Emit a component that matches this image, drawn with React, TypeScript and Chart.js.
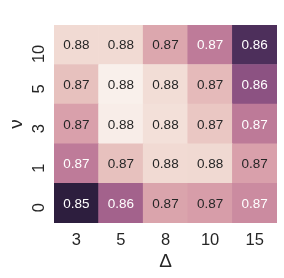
import React, { useEffect, useRef } from "react";
import { Chart, registerables } from "chart.js";

Chart.register(...registerables);

const xLabels = ["3", "5", "8", "10", "15"];
const yLabels = ["0", "1", "3", "5", "10"]; // bottom to top
const row0 = [0.8535, 0.8636, 0.8707, 0.8701, 0.8682];
const row1 = [0.8665, 0.8735, 0.8759, 0.8758, 0.8704];
const row3 = [0.8704, 0.8778, 0.8765, 0.8741, 0.8664];
const row5 = [0.8735, 0.8781, 0.8762, 0.8729, 0.8615];
const row10 = [0.8759, 0.8759, 0.871, 0.8665, 0.8562];
const rows = [row0, row1, row3, row5, row10];

const allVals = rows.flat();
const vmin = Math.min(...allVals);
const vmax = Math.max(...allVals);

const LIGHT = 0.95;
const DARK = 0.15;

function cubehelix(x: number): [number, number, number] {
  const start = 0, rot = 0.4, gamma = 1, hue = 0.8;
  const f = (p0: number, p1: number) => {
    const xg = Math.pow(x, gamma);
    const a = (hue * xg * (1 - xg)) / 2;
    const phi = 2 * Math.PI * (start / 3 + rot * x);
    return Math.min(1, Math.max(0, xg + a * (p0 * Math.cos(phi) + p1 * Math.sin(phi))));
  };
  return [f(-0.14861, 1.78277), f(-0.29227, -0.90649), f(1.97294, 0)];
}

function colorFor(v: number): [number, number, number] {
  const t = (v - vmin) / (vmax - vmin);
  return cubehelix(DARK + (LIGHT - DARK) * t);
}

function toCss(c: [number, number, number]) {
  return `rgb(${Math.round(c[0] * 255)},${Math.round(c[1] * 255)},${Math.round(c[2] * 255)})`;
}

function luminance(c: [number, number, number]) {
  const lin = c.map((u) => (u <= 0.03928 ? u / 12.92 : Math.pow((u + 0.055) / 1.055, 2.4)));
  return 0.2126 * lin[0] + 0.7152 * lin[1] + 0.0722 * lin[2];
}

const FONT = "'Liberation Sans', Arial, sans-serif";

const annotPlugin = {
  id: "annot",
  afterDatasetsDraw(chart: any) {
    const ctx = chart.ctx;
    ctx.save();
    ctx.font = `13.5px ${FONT}`;
    ctx.textAlign = "center";
    ctx.textBaseline = "middle";
    chart.data.datasets.forEach((ds: any, di: number) => {
      const meta = chart.getDatasetMeta(di);
      meta.data.forEach((el: any, i: number) => {
        const v = rows[di][i];
        const c = colorFor(v);
        ctx.fillStyle = luminance(c) < 0.408 ? "#ffffff" : "#262626";
        ctx.fillText(v.toFixed(2), el.x, (el.y + el.base) / 2 + 1);
      });
    });
    ctx.restore();
  },
};

export default function App() {
  const ref = useRef<HTMLCanvasElement>(null);
  useEffect(() => {
    const datasets = rows.map((r, ri) => ({
      label: yLabels[ri],
      data: r.map(() => 1),
      backgroundColor: r.map((v) => toCss(colorFor(v))),
      borderWidth: 0,
      barPercentage: 1,
      categoryPercentage: 1,
    }));
    const chart = new Chart(ref.current!, {
      type: "bar",
      data: { labels: xLabels, datasets },
      plugins: [annotPlugin],
      options: {
        animation: false,
        responsive: false,
        maintainAspectRatio: false,
        layout: { padding: { left: 0, top: 7, right: 7, bottom: 0 } },
        plugins: { legend: { display: false }, tooltip: { enabled: false } },
        scales: {
          x: {
            stacked: true,
            grid: { display: false, drawTicks: false },
            border: { display: false },
            ticks: { color: "#262626", font: { size: 16.5, family: FONT }, padding: 8 },
            title: {
              display: true,
              text: "Δ",
              color: "#262626",
              font: { size: 19, family: FONT },
              padding: { top: 0, bottom: 5 },
            },
            afterFit: (s: any) => {
              s.height = 55;
            },
          },
          y: {
            type: "linear",
            stacked: true,
            min: 0,
            max: 5,
            grid: { display: false, drawTicks: false },
            border: { display: false },
            afterBuildTicks: (s: any) => {
              s.ticks = yLabels.map((_, i) => ({ value: i + 0.5 }));
            },
            ticks: {
              color: "#262626",
              font: { size: 16.5, family: FONT },
              minRotation: 90,
              maxRotation: 90,
              padding: 15,
              callback: (_v: any, i: number) => yLabels[i],
            },
            title: {
              display: true,
              text: "ν",
              color: "#262626",
              font: { size: 19, family: FONT },
              padding: { top: 5, bottom: 0 },
            },
            afterFit: (s: any) => {
              s.width = 54;
            },
          },
        },
      },
    });
    return () => chart.destroy();
  }, []);
  return (
    <div style={{ position: "fixed", left: 0, top: 0, width: 284, height: 278, background: "#fff" }}>
      <canvas ref={ref} width={284} height={278} style={{ width: 284, height: 278 }} />
    </div>
  );
}
